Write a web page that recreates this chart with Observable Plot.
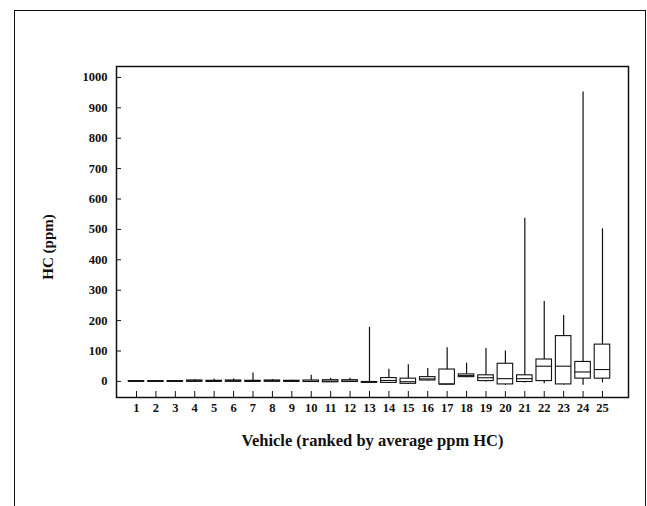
<!DOCTYPE html>
<html>
<head>
<meta charset="utf-8">
<script src="https://cdn.jsdelivr.net/npm/d3@7"></script>
<script src="https://cdn.jsdelivr.net/npm/@observablehq/plot@0.6"></script>
<style>
  html, body { margin: 0; padding: 0; background: #fff; }
  #wrap { position: relative; width: 647px; height: 506px; overflow: hidden; }
  #outer { position: absolute; left: 14px; top: 10px; width: 630px; height: 600px;
           border-left: 1.5px solid #111; border-top: 1.5px solid #111; border-right: 1.5px solid #111; }
  #chart { position: absolute; left: 0; top: 0; }
  svg { font-family: "Liberation Serif", "Times New Roman", serif; }
</style>
</head>
<body>
<div id="wrap"><div id="outer"></div><div id="chart"></div></div>
<script>
const vehicles = [1,2,3,4,5,6,7,8,9,10,11,12,13,14,15,16,17,18,19,20,21,22,23,24,25];
const whiskerLow  = [-2,-2,-2,-2,-3,-3,-3,-3,-3,-4,-4,-4,-6,-7,-10,1,-12,12,-2,-13,-5,-8,-12,-13,-5];
const q1          = [-1,-1,-1,-1,-1,-1,-1,-1,-1,-2,-3,-2,-4,-5,-8,3,-10,14,1,-10,-2,1,-10,9,9];
const median      = [0,0,0,1,0,1,0,1,0,0,1,1,-3,3,-1,8,-9,19,12,9,9,50,50,31,39];
const q3          = [1,1,1,3,2,3,2,3,2,3,4,4,-2,11,9,14,39,23,20,58,20,72,149,64,121];
const whiskerHigh = [2,3,2,6,8,8,28,6,4,20,10,10,178,40,55,42,111,60,108,100,537,263,217,952,502];
const yTicks = [0,100,200,300,400,500,600,700,800,900,1000];
const xLabel = "Vehicle (ranked by average ppm HC)";
const yLabel = "HC (ppm)";

const data = vehicles.map((v, i) => ({
  v, lo: whiskerLow[i], q1: q1[i], med: median[i], q3: q3[i], hi: whiskerHigh[i]
}));
const half = 0.40;

const chart = Plot.plot({
  width: 647,
  height: 506,
  marginLeft: 116,
  marginRight: 19,
  marginTop: 66,
  marginBottom: 109,
  style: { fontFamily: '"Liberation Serif", "Times New Roman", serif', background: "transparent", color: "#111" },
  x: { type: "linear", domain: [-0.03, 26.34] },
  y: { type: "linear", domain: [-53, 1036] },
  marks: [
    Plot.frame({ stroke: "#111", strokeWidth: 1.5 }),
    Plot.ruleX(data, { x: "v", y1: "lo", y2: "hi", stroke: "#111", strokeWidth: 1.2 }),
    Plot.rect(data, { x1: d => d.v - half, x2: d => d.v + half, y1: "q1", y2: "q3", fill: "white", stroke: "#111", strokeWidth: 1.1 }),
    Plot.ruleY(data, { y: "med", x1: d => d.v - half, x2: d => d.v + half, stroke: "#111", strokeWidth: 1.1 }),
    Plot.axisY({ ticks: yTicks, tickSize: -5, tickPadding: 14, tickFormat: d => String(d), label: null, fontSize: 12.5, fontWeight: "bold", stroke: "#111" }),
    Plot.axisX({ ticks: vehicles, tickSize: -6, tickPadding: 12, tickFormat: d => String(d), label: null, fontSize: 12.5, fontWeight: "bold", stroke: "#111" }),
    Plot.text([xLabel], { frameAnchor: "bottom", dy: 48, fontSize: 16.5, fontWeight: "bold", fill: "#111", text: d => d }),
    Plot.text([yLabel], { frameAnchor: "left", dx: -68, dy: 15, rotate: -90, textAnchor: "middle", fontSize: 15, fontWeight: "bold", fill: "#111", text: d => d })
  ]
});
document.getElementById("chart").appendChild(chart);
</script>
</body>
</html>
